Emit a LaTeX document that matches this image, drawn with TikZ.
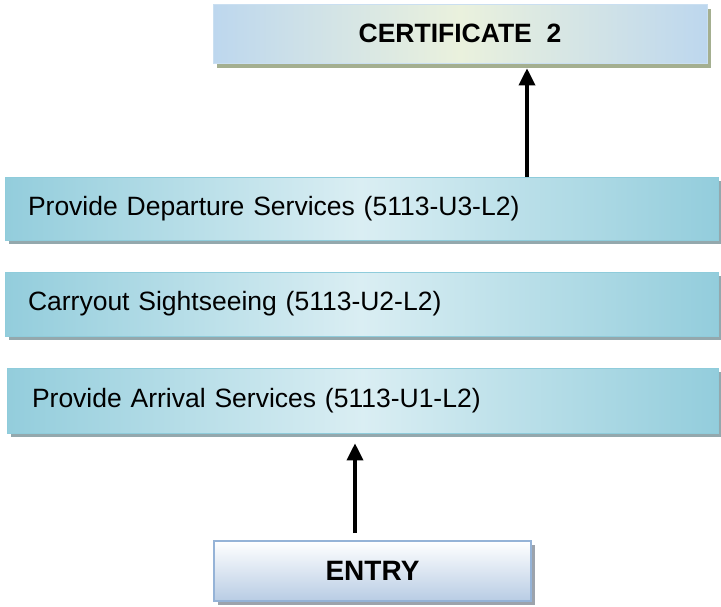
\documentclass[tikz,border=0pt]{standalone}
\usepackage{fontspec}
\setmainfont{Liberation Sans}
\usetikzlibrary{shadows,arrows.meta}
\definecolor{procdark}{HTML}{93CDDC}
\definecolor{proclight}{HTML}{DAEEF3}
\definecolor{procedge}{HTML}{8FCCDB}
\definecolor{procshadow}{HTML}{94A8AD}
\definecolor{certblue}{HTML}{BDD7EE}
\definecolor{certgreen}{HTML}{EAF1DD}
\definecolor{certshadow}{HTML}{A4AF90}
\definecolor{entryblue}{HTML}{B8CCE4}
\definecolor{entryedge}{HTML}{95B3D7}
\definecolor{entryshadow}{HTML}{9CA3AC}
\tikzset{
  procbox/.style={draw=procedge, line width=0.6pt,
    left color=procdark, right color=procdark, middle color=proclight,
    general shadow={fill=procshadow, shadow xshift=4pt, shadow yshift=-4pt},
    font=\fontsize{26.5}{30}\selectfont, align=left, inner ysep=0pt},
  certbox/.style={draw=certblue!80!white, line width=0.6pt,
    left color=certblue, right color=certblue, middle color=certgreen,
    general shadow={fill=certshadow, shadow xshift=4pt, shadow yshift=-5pt},
    font=\fontsize{26.5}{30}\selectfont\bfseries, inner sep=0pt},
  entrybox/.style={draw=entryedge, line width=1.6pt,
    top color=white, bottom color=entryblue,
    general shadow={fill=entryshadow, shadow xshift=4pt, shadow yshift=-4pt},
    font=\fontsize{28}{30}\selectfont\bfseries, inner sep=0pt},
  arr/.style={line width=3.5pt, -{Triangle[width=16pt,length=17pt]}}
}
\begin{document}
\begin{tikzpicture}[x=1pt,y=-1pt]
\useasboundingbox (0,0) rectangle (721,606);
\node[certbox, minimum width=494pt, minimum height=59pt] (cert) at (460,33.5) {CERTIFICATE\ \ 2};
\node[procbox, minimum height=63pt, text width=667pt, inner xsep=23pt] (dep) at (361.5,208.5) {Provide Departure Services (5113-U3-L2)};
\node[procbox, minimum height=64pt, text width=667pt, inner xsep=23pt] (sight) at (361.5,304) {Carryout Sightseeing (5113-U2-L2)};
\node[procbox, minimum height=65pt, text width=661pt, inner xsep=25pt] (arrival) at (362.5,400.5) {Provide Arrival Services (5113-U1-L2)};
\node[entrybox, minimum width=317pt, minimum height=60pt] (entry) at (372.5,571) {ENTRY};
\coordinate (ax) at (355,0);
\coordinate (cx) at (527,0);
\draw[arr, shorten <=7pt, shorten >=10pt] (entry.north -| ax) -- (arrival.south -| ax);
\draw[arr, shorten >=5pt] (dep.north -| cx) -- (cert.south -| cx);
\end{tikzpicture}
\end{document}
